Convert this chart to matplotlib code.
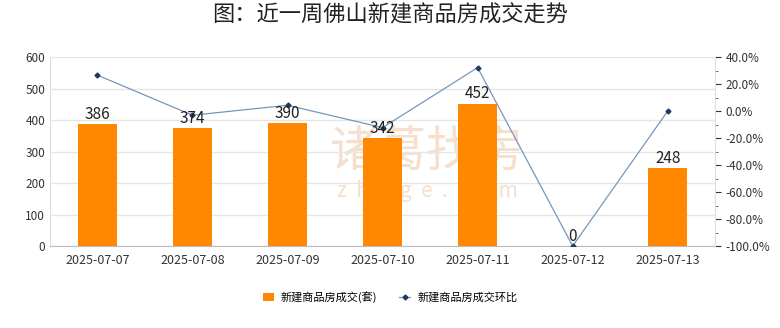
import numpy as np
import matplotlib
matplotlib.use("Agg")
import matplotlib.pyplot as plt
from matplotlib.ticker import FuncFormatter, MultipleLocator

plt.rcParams['font.family'] = ['Noto Sans CJK SC', 'DejaVu Sans']

dates = ["2025-07-07", "2025-07-08", "2025-07-09", "2025-07-10",
         "2025-07-11", "2025-07-12", "2025-07-13"]
deals = [386, 374, 390, 342, 452, 0, 248]
ratio = [26.6, -3.1, 4.3, -12.3, 32.2, -100.0, 0.0]

fig = plt.figure(figsize=(7.8, 3.28), dpi=100)
ax = fig.add_axes([0.064, 0.25, 0.853, 0.576])
x = np.arange(len(dates))

# watermark behind the bars
ax.text(0.567, 0.50, "诸葛找房", transform=ax.transAxes, ha="center", va="center",
        fontsize=35, color="#f6dfcc", zorder=1)
ax.text(0.567, 0.29, "z  h  u  g  e  .  c  o  m", transform=ax.transAxes, ha="center",
        va="center", fontsize=15, color="#f6dfcc", zorder=1)

bars = ax.bar(x, deals, width=0.41, color="#ff8800", zorder=2,
              label="新建商品房成交(套)")

ax.set_xlim(-0.5, len(dates) - 0.5)
ax.set_ylim(0, 600)
ax.set_yticks(range(0, 601, 100))
ax.set_xticks(x)
ax.set_xticklabels(dates)
ax.grid(axis="y", color="#e6e6e6", linewidth=1, zorder=0)
ax.tick_params(axis="both", labelsize=8.5, colors="#333333", length=0)
ax.tick_params(axis="x", pad=6, labelsize=9)
for s in ["top", "right"]:
    ax.spines[s].set_visible(False)
ax.spines["left"].set_color("#dddddd")
ax.spines["bottom"].set_color("#bbbbbb")

ax2 = ax.twinx()
ax2.plot(x, ratio, color="#7896bb", linewidth=0.9, marker="D", markersize=2.5,
         markerfacecolor="#1f3a5f", markeredgecolor="#1f3a5f", zorder=4,
         label="新建商品房成交环比")
ax2.set_ylim(-100, 40)
ax2.set_yticks(range(-100, 41, 20))
ax2.yaxis.set_minor_locator(MultipleLocator(10))
ax2.yaxis.set_major_formatter(FuncFormatter(lambda v, p: f"{v:.1f}%"))
ax2.tick_params(axis="y", which="major", labelsize=8.5, colors="#333333", length=4, direction="out")
ax2.tick_params(axis="y", which="minor", length=2, colors="#555555")
ax2.tick_params(axis="y", which="both", labelcolor="#333333")
for s in ["top", "left", "bottom"]:
    ax2.spines[s].set_visible(False)
ax2.spines["right"].set_color("#dddddd")

# bar value labels, drawn on top of the line
for xi, v in zip(x, deals):
    ax2.annotate(str(v), xy=(xi, v), xycoords=ax.transData, xytext=(0, 1),
                 textcoords="offset points", ha="center", va="bottom",
                 fontsize=11, color="#222222", zorder=5)

fig.text(0.5, 0.955, "图：近一周佛山新建商品房成交走势", ha="center", va="center",
         fontsize=16, color="#222222")

h1, l1 = ax.get_legend_handles_labels()
h2, l2 = ax2.get_legend_handles_labels()
fig.legend(h1 + h2, l1 + l2, loc="center", bbox_to_anchor=(0.5, 0.095), ncol=2,
           frameon=False, fontsize=8, handlelength=1.0, handleheight=0.7,
           columnspacing=2.0, handletextpad=0.6)

fig.savefig("out.png", dpi=100, facecolor="white")
